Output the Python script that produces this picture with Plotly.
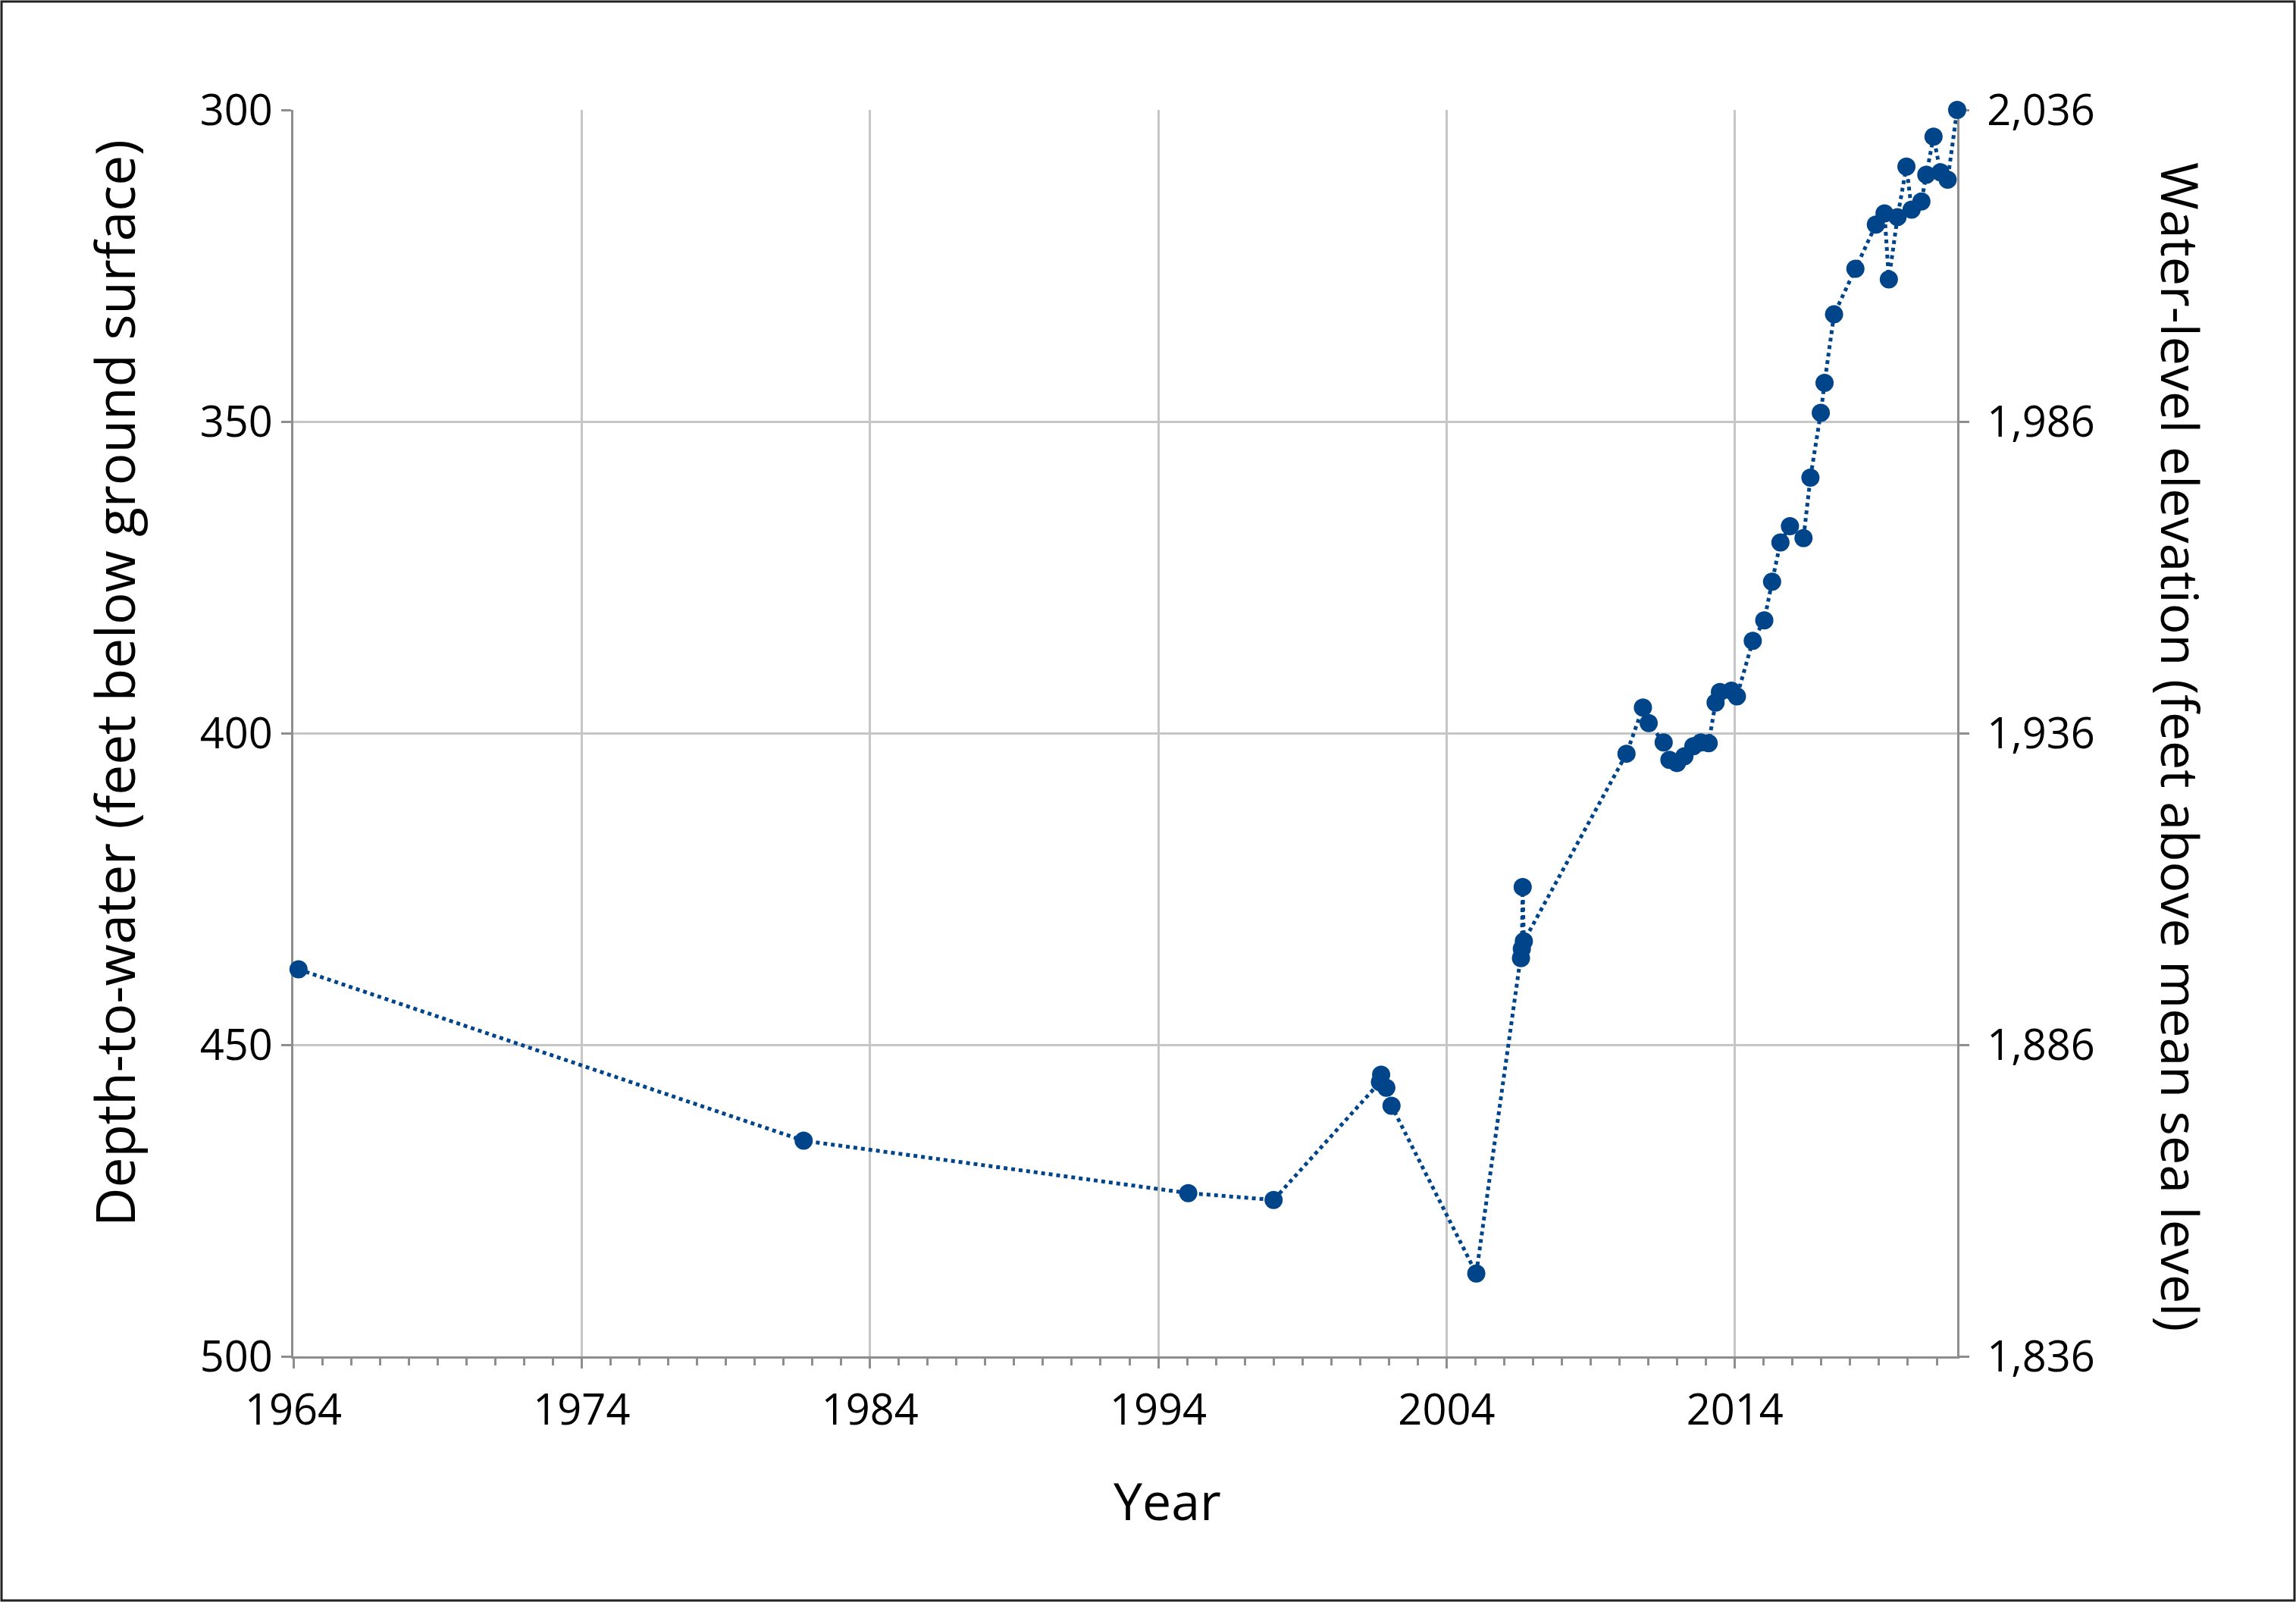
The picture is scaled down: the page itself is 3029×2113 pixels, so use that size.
import plotly.graph_objects as go

# water-level measurements (decimal year, depth to water in feet below land surface)
years = [1964.18, 1981.70, 1995.04, 1998.00,
         2001.69, 2001.73, 2001.91, 2002.09,
         2005.03,
         2006.58, 2006.61, 2006.64, 2006.68,
         2010.24, 2010.81, 2011.01, 2011.53, 2011.73, 2011.99, 2012.25,
         2012.56, 2012.82, 2013.09, 2013.33, 2013.48, 2013.88, 2014.07,
         2014.62, 2015.02, 2015.29, 2015.58, 2015.91, 2016.38, 2016.62,
         2016.98, 2017.11, 2017.44, 2018.18, 2018.89, 2019.19, 2019.34,
         2019.64, 2019.95, 2020.13, 2020.47, 2020.64, 2020.89, 2021.13,
         2021.38, 2021.71]
depth = [437.9, 465.4, 473.8, 474.9,
         456.0, 454.8, 456.9, 459.8,
         486.7,
         436.1, 434.6, 424.7, 433.4,
         403.3, 395.9, 398.4, 401.5, 404.3, 404.8, 403.7,
         402.1, 401.5, 401.6, 395.1, 393.4, 393.2, 394.1,
         385.2, 381.9, 375.7, 369.4, 366.8, 368.7, 359.0,
         348.6, 343.8, 332.8, 325.5, 318.4, 316.6, 327.2,
         317.2, 309.1, 316.0, 314.7, 310.4, 304.3, 310.0,
         311.2, 300.0]

land_surface = 2336  # feet above mean sea level
depth_ticks = [300, 350, 400, 450, 500]
elev_ticks = [1836, 1886, 1936, 1986, 2036]
year_ticks = [1964, 1974, 1984, 1994, 2004, 2014]

elevation = [land_surface - d for d in depth]

W, H = 3029, 2113
L, R, T, B = 387, 447, 145, 324
pw, ph = W - L - R, H - T - B


def px_x(px):
    return (px - L) / pw


def px_y(py):
    return (H - B - py) / ph


blue = "#00448a"
axis_grey = "#8e8e8e"
grid_grey = "#c6c6c6"
font = "Open Sans"

fig = go.Figure()
fig.add_trace(go.Scatter(x=years, y=depth, mode="lines+markers",
                         line=dict(color=blue, width=5, dash="dot"),
                         marker=dict(color=blue, size=24),
                         cliponaxis=False, showlegend=False))
# invisible copy so the elevation axis is drawn
fig.add_trace(go.Scatter(x=years, y=elevation, yaxis="y2", mode="lines",
                         line=dict(width=0), opacity=0, hoverinfo="skip",
                         showlegend=False))

fig.update_layout(
    width=W, height=H,
    margin=dict(l=L, r=R, t=T, b=B),
    paper_bgcolor="white", plot_bgcolor="white",
    font=dict(family=font, size=56, color="black"),
    xaxis=dict(range=[1964, max(years)], tickmode="array", tickvals=year_ticks,
               showgrid=True, gridcolor=grid_grey, gridwidth=3,
               showline=True, linecolor=axis_grey, linewidth=3,
               ticks="outside", ticklen=13, tickwidth=3, tickcolor=axis_grey,
               minor=dict(dtick=1, tick0=1964, ticks="outside", ticklen=9,
                          tickwidth=3, tickcolor=axis_grey, showgrid=False),
               ticklabelstandoff=7, zeroline=False, layer="below traces"),
    yaxis=dict(range=[500, 300], tickmode="array", tickvals=depth_ticks,
               showgrid=True, gridcolor=grid_grey, gridwidth=3,
               showline=True, linecolor=axis_grey, linewidth=3,
               ticks="outside", ticklen=13, tickwidth=3, tickcolor=axis_grey,
               zeroline=False, layer="below traces"),
    yaxis2=dict(range=[elev_ticks[0], elev_ticks[-1]], overlaying="y", side="right",
                tickmode="array", tickvals=elev_ticks, tickformat=",",
                showgrid=False, showline=True, linecolor=axis_grey, linewidth=3,
                ticks="outside", ticklen=13, tickwidth=3, tickcolor=axis_grey,
                ticklabelstandoff=12, zeroline=False, layer="below traces"),
)

fig.add_annotation(text="Year", x=px_x(1540), y=px_y(1978), xref="paper", yref="paper",
                   showarrow=False, font=dict(size=68), xanchor="center", yanchor="middle")
fig.add_annotation(text="Depth-to-water (feet below ground surface)", x=px_x(150), y=px_y(901),
                   xref="paper", yref="paper", showarrow=False, textangle=-90,
                   font=dict(size=71), xanchor="center", yanchor="middle")
fig.add_annotation(text="Water-level elevation (feet above mean sea level)", x=px_x(2878),
                   y=px_y(985), xref="paper", yref="paper", showarrow=False, textangle=90,
                   font=dict(size=68), xanchor="center", yanchor="middle")

# frame around the whole figure
fig.add_shape(type="rect", xref="paper", yref="paper",
              x0=px_x(2), x1=px_x(W - 2), y0=px_y(H - 2), y1=px_y(2),
              line=dict(color="#222222", width=3), fillcolor="rgba(0,0,0,0)", layer="above")

fig.write_html("out.html", config={"displayModeBar": False},
               post_script="document.body.style.margin='0';")
